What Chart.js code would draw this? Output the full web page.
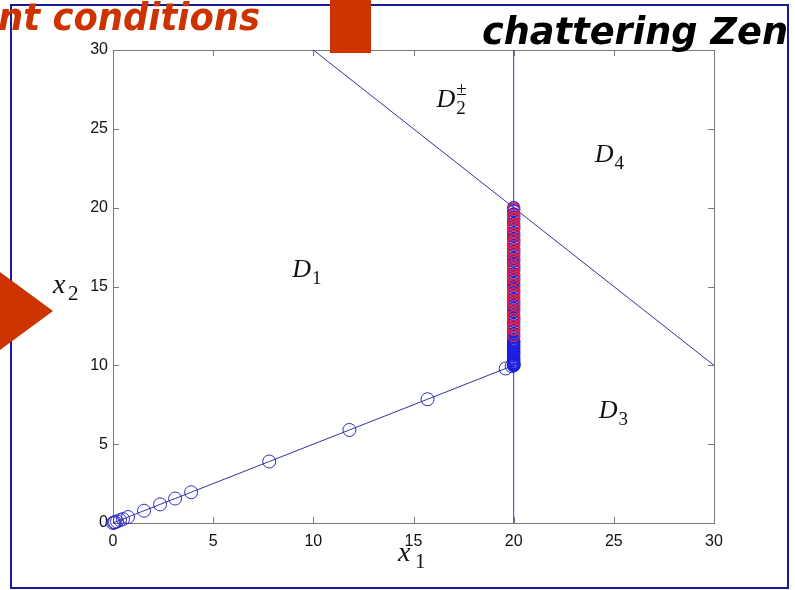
<!DOCTYPE html>
<html>
<head>
<meta charset="utf-8">
<script src="https://cdn.jsdelivr.net/npm/chart.js@4.4.1/dist/chart.umd.min.js"></script>
<style>
  html, body { margin: 0; padding: 0; background: #fff; }
  #wrap { position: relative; width: 795px; height: 590px; overflow: hidden; }
  canvas { display: block; }
</style>
</head>
<body>
<div id="wrap"><canvas id="c" width="795" height="590"></canvas></div>
<script>
// Axis ranges and tick values
const axisMin = 0;
const axisMax = 30;
const tickValues = [0, 5, 10, 15, 20, 25, 30];

// Region boundaries: x1 + x2 = 40 and x1 = 20
const diagX = [10, 30];
const diagY = [30, 10];
const switchX = [20, 20];
const switchY = [0, 30];

// Trajectory from the origin to the switching surface
const trajX = [0, 0.05, 0.1, 0.2, 0.35, 0.5, 0.75, 1.55, 2.35, 3.1, 3.9, 7.8, 11.8, 15.7, 19.6, 19.9, 20];
const trajY = [0, 0.03, 0.05, 0.1, 0.18, 0.25, 0.38, 0.78, 1.18, 1.55, 1.95, 3.9, 5.9, 7.85, 9.8, 9.95, 10];

// Sliding (chattering) states on x1 = 20
const slideX = 20;
const slideBlueY = [10.0, 10.05, 10.1, 10.15, 10.2, 10.3, 10.4, 10.5, 10.6, 10.7, 10.8, 10.9, 11.0, 11.1, 11.2, 11.3, 11.4, 11.5, 11.6,
  11.8, 12.0, 12.2, 12.4, 12.6, 12.8, 13.0, 13.2, 13.4, 13.6, 13.8, 14.0, 14.2, 14.4, 14.6, 14.8, 15.0, 15.2, 15.4, 15.6, 15.8,
  16.0, 16.2, 16.4, 16.6, 16.8, 17.0, 17.2, 17.4, 17.6, 17.8, 18.0, 18.2, 18.4, 18.6, 18.8, 19.0, 19.2, 19.4, 19.6, 19.8, 20.0];
const slideRedY = [11.9, 12.3, 12.5, 12.9, 13.1, 13.5, 13.9, 14.1, 14.5, 14.7, 15.1, 15.5, 15.7, 16.1, 16.3, 16.7, 17.1, 17.3,
  17.7, 17.9, 18.3, 18.7, 18.9, 19.3, 19.5, 19.9];

// Region names
const regionNames = [
  { main: 'D', sub: '1', sup: '' },
  { main: 'D', sub: '2', sup: '\u00B1' },
  { main: 'D', sub: '4', sup: '' },
  { main: 'D', sub: '3', sup: '' }
];
const regionAnchors = [[8.95, 15.6], [16.15, 26.4], [24.05, 22.9], [24.25, 6.66]];

const pts = (xs, ys) => xs.map((x, i) => ({ x: x, y: ys[i] }));
const lineBlue = '#32329e';
const markBlue = '#1e1ee0';
const markRed = '#e8203a';
const slideRed = '#cc3300';

const frame = {
  id: 'frame',
  beforeDatasetsDraw(chart) {
    const { ctx, chartArea: a, scales: { x, y } } = chart;
    ctx.save();
    ctx.strokeStyle = '#7a7a7a';
    ctx.lineWidth = 1;
    ctx.strokeRect(a.left + 0.5, a.top + 0.5, a.right - a.left, a.bottom - a.top);
    ctx.beginPath();
    const t = 6;
    tickValues.forEach(v => {
      const px = Math.round(x.getPixelForValue(v)) + 0.5;
      const py = Math.round(y.getPixelForValue(v)) + 0.5;
      ctx.moveTo(px, a.bottom); ctx.lineTo(px, a.bottom - t);
      ctx.moveTo(px, a.top); ctx.lineTo(px, a.top + t);
      ctx.moveTo(a.left, py); ctx.lineTo(a.left + t, py);
      ctx.moveTo(a.right, py); ctx.lineTo(a.right - t, py);
    });
    ctx.stroke();
    ctx.restore();
  },
  afterDraw(chart) {
    const { ctx, scales: { x, y } } = chart;
    ctx.save();
    ctx.fillStyle = '#111';
    ctx.textBaseline = 'alphabetic';
    // region names
    regionNames.forEach((r, i) => {
      const px = x.getPixelForValue(regionAnchors[i][0]);
      const py = y.getPixelForValue(regionAnchors[i][1]);
      ctx.font = 'italic 26px "Liberation Serif"';
      ctx.fillText(r.main, px, py);
      const w = ctx.measureText(r.main).width;
      ctx.font = '19px "Liberation Serif"';
      ctx.fillText(r.sub, px + w + 1, py + 7);
      if (r.sup) ctx.fillText(r.sup, px + w + 1, py - 12);
    });
    // axis titles
    ctx.font = 'italic 28px "Liberation Serif"';
    ctx.fillText('x', 398, 561);
    ctx.fillText('x', 53, 293);
    ctx.font = '21px "Liberation Serif"';
    ctx.fillText('1', 415, 568);
    ctx.fillText('2', 68, 300);

    // slide decorations
    ctx.strokeStyle = '#1a1a96';
    ctx.lineWidth = 2;
    ctx.strokeRect(11, 5, 777, 583);

    ctx.fillStyle = slideRed;
    ctx.fillRect(330, 0, 41, 53);
    ctx.beginPath();
    ctx.moveTo(0, 272); ctx.lineTo(53, 311); ctx.lineTo(0, 350); ctx.closePath();
    ctx.fill();

    ctx.font = 'italic bold 37px "DejaVu Sans"';
    let w1 = ctx.measureText('nt conditions').width;
    ctx.save();
    ctx.translate(-2, 30);
    ctx.scale(262 / w1, 1);
    ctx.fillStyle = slideRed;
    ctx.fillText('nt conditions', 0, 0);
    ctx.restore();

    ctx.save();
    ctx.beginPath();
    ctx.rect(0, 0, 788, 590);
    ctx.clip();
    let w2 = ctx.measureText('chattering Zen').width;
    ctx.translate(482, 44);
    ctx.scale(306 / w2, 1);
    ctx.fillStyle = '#000';
    ctx.fillText('chattering Zeno', 0, 0);
    ctx.restore();

    ctx.restore();
  }
};

new Chart(document.getElementById('c'), {
  type: 'scatter',
  data: {
    datasets: [
      { label: 'slide red', data: slideRedY.map(v => ({ x: slideX, y: v })), showLine: false,
        pointRadius: 6, pointBorderColor: markRed, pointBackgroundColor: 'rgba(0,0,0,0)', pointBorderWidth: 1.4, clip: false, order: 1 },
      { label: 'slide blue', data: slideBlueY.map(v => ({ x: slideX, y: v })), showLine: false,
        pointRadius: 6, pointBorderColor: markBlue, pointBackgroundColor: 'rgba(0,0,0,0)', pointBorderWidth: 1.4, clip: false, order: 2 },
      { label: 'trajectory', data: pts(trajX, trajY), showLine: true, borderColor: lineBlue, borderWidth: 1,
        pointRadius: 6.5, pointBorderColor: '#2c2cc0', pointBackgroundColor: 'rgba(0,0,0,0)', pointBorderWidth: 1, clip: false, order: 3 },
      { label: 'x1 + x2 = 40', data: pts(diagX, diagY), showLine: true, borderColor: lineBlue, borderWidth: 1,
        pointRadius: 0, order: 4 },
      { label: 'x1 = 20', data: pts(switchX, switchY), showLine: true, borderColor: '#3c3cb4', borderWidth: 1,
        pointRadius: 0, order: 5 }
    ]
  },
  options: {
    responsive: false,
    animation: false,
    devicePixelRatio: 1,
    layout: { padding: { left: 0, top: 50, right: 81, bottom: 0 } },
    plugins: { legend: { display: false }, tooltip: { enabled: false } },
    scales: {
      x: {
        type: 'linear', min: axisMin, max: axisMax,
        grid: { display: false, drawTicks: false }, border: { display: false },
        ticks: { stepSize: 5, color: '#111', padding: 9, font: { family: '"Liberation Sans"', size: 16 } },
        afterFit(s) { s.height = 67; }
      },
      y: {
        type: 'linear', min: axisMin, max: axisMax,
        grid: { display: false, drawTicks: false }, border: { display: false },
        ticks: { stepSize: 5, color: '#111', padding: 5, font: { family: '"Liberation Sans"', size: 16 } },
        afterFit(s) { s.width = 113; }
      }
    }
  },
  plugins: [frame]
});
</script>
</body>
</html>
